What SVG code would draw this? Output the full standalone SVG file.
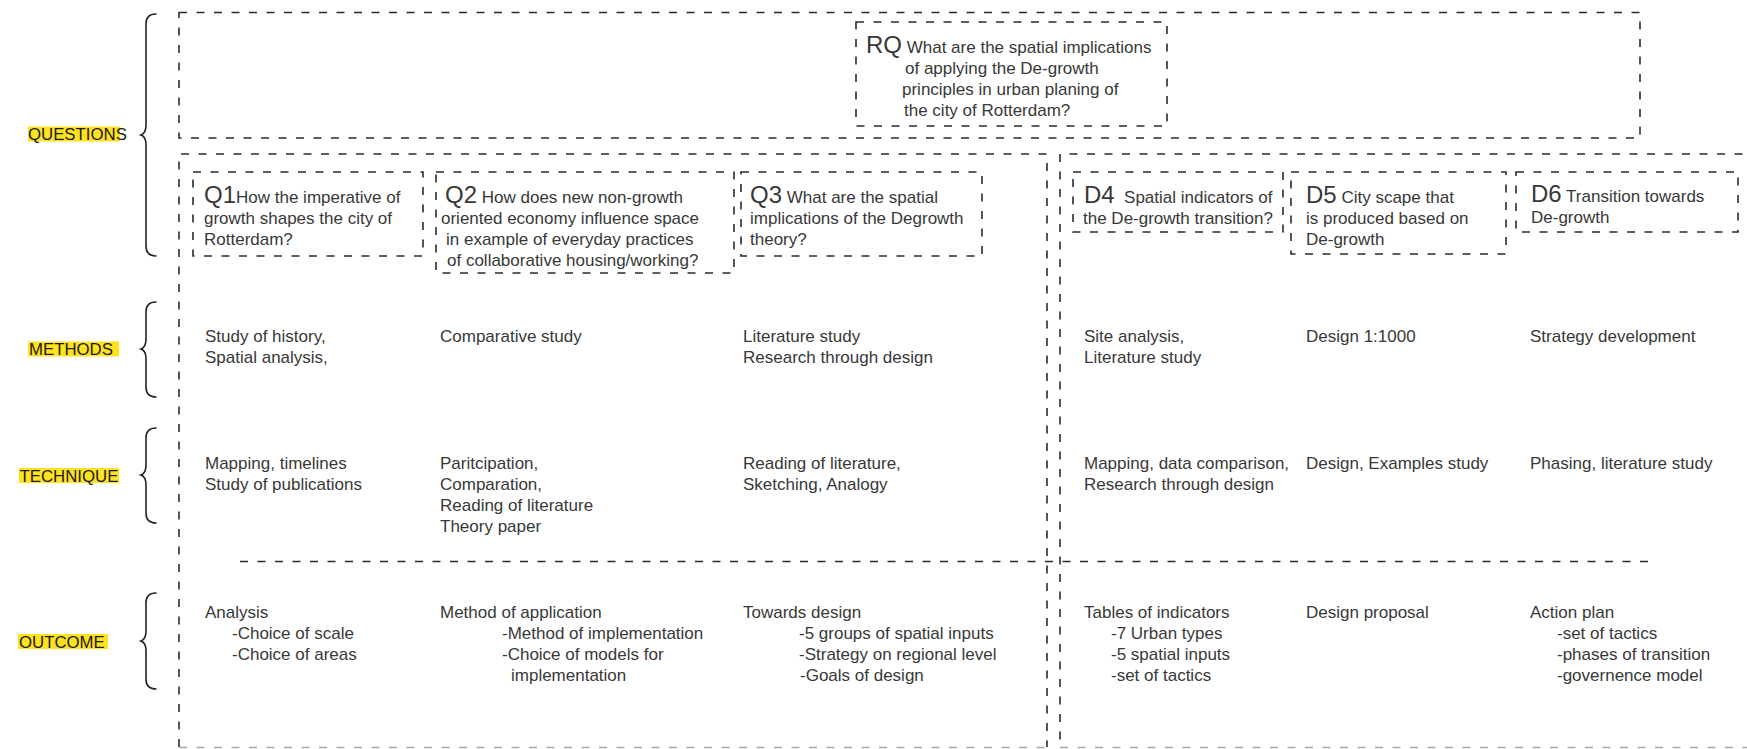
<svg xmlns="http://www.w3.org/2000/svg" width="1747" height="749" viewBox="0 0 1747 749">
<style>
.t{font-family:"Liberation Sans",Arial,sans-serif;font-size:17px;fill:#383838}
.big{font-size:24px}
.lbl{font-family:"Liberation Sans",Arial,sans-serif;font-size:16.8px;fill:#1a1a1a}
.hl{fill:#FFE21F}
.d{fill:none;stroke:#2b2b2b;stroke-width:1.6;stroke-dasharray:8 9.5}
.dl{fill:none;stroke:#a8a8a8;stroke-width:1.6;stroke-dasharray:8 9.5}
.br{fill:none;stroke:#222;stroke-width:1.6;stroke-linecap:round}
</style>
<rect width="1747" height="749" fill="#fff"/>

<g id="labels">
  <g id="label-questions">
    <rect class="hl" x="28" y="126.5" width="92" height="15"/>
    <text class="lbl" x="28" y="140">QUESTIONS</text>
    <path class="br" d="M156,14 C150,14 146,17 146,24 L146,125 C146,131 144,134 141,135 C144,136 146,139 146,145 L146,246 C146,253 150,256 156,256"/>
  </g>
  <g id="label-methods">
    <rect class="hl" x="28" y="341.5" width="91" height="15"/>
    <text class="lbl" x="29" y="355">METHODS</text>
    <path class="br" d="M156,302 C150,302 146,305 146,312 L146,339 C146,345 144,348 141,349 C144,350 146,353 146,359 L146,387 C146,394 150,397 156,397"/>
  </g>
  <g id="label-technique">
    <rect class="hl" x="19" y="468" width="100" height="15"/>
    <text class="lbl" x="19.5" y="481.5">TECHNIQUE</text>
    <path class="br" d="M156,428 C150,428 146,431 146,438 L146,465 C146,471 144,474 141,475 C144,476 146,479 146,485 L146,513 C146,520 150,523 156,523"/>
  </g>
  <g id="label-outcome">
    <rect class="hl" x="18" y="634" width="90" height="15"/>
    <text class="lbl" x="19" y="647.5">OUTCOME</text>
    <path class="br" d="M156,593 C150,593 146,596 146,603 L146,631 C146,637 144,640 141,641 C144,642 146,645 146,651 L146,679 C146,686 150,689 156,689"/>
  </g>
</g>

<g id="frames">
  <rect id="rq-frame" class="d" x="179" y="12.5" width="1461" height="125.5"/>
  <path id="left-frame" class="d" d="M179,747 V154 H1047 V747"/>
  <path class="dl" d="M179,747.5 H1047"/>
  <path id="right-frame" class="d" d="M1760,154 H1060 V747"/>
  <path class="dl" d="M1060,747.5 H1747"/>
</g>

<g id="connectors">
  <path id="divider" class="d" d="M240,561.5 H1648"/>
</g>

<g id="RQ">
  <rect class="d" x="856" y="22" width="311" height="104"/>
  <text class="t" x="866" y="53"><tspan class="big">RQ</tspan> What are the spatial implications</text>
  <text class="t" x="905" y="74">of applying the De-growth</text>
  <text class="t" x="902" y="95">principles in urban planing of</text>
  <text class="t" x="904" y="116">the city of Rotterdam?</text>
</g>

<g id="Q1">
  <rect class="d" x="193" y="172" width="230" height="84"/>
  <text class="t" x="204" y="202.5"><tspan class="big">Q1</tspan>How the imperative of</text>
  <text class="t" x="204" y="223.5">growth shapes the city of</text>
  <text class="t" x="204" y="244.5">Rotterdam?</text>
</g>

<g id="Q2">
  <rect class="d" x="436" y="172" width="298" height="101"/>
  <text class="t" x="445" y="202.5"><tspan class="big">Q2</tspan> How does new non-growth</text>
  <text class="t" x="441" y="223.5">oriented economy influence space</text>
  <text class="t" x="446" y="244.5">in example of everyday practices</text>
  <text class="t" x="447" y="265.5">of collaborative housing/working?</text>
</g>

<g id="Q3">
  <rect class="d" x="741" y="172" width="241" height="84"/>
  <text class="t" x="750" y="202.5"><tspan class="big">Q3</tspan> What are the spatial</text>
  <text class="t" x="750" y="223.5">implications of the Degrowth</text>
  <text class="t" x="750" y="244.5">theory?</text>
</g>

<g id="D4">
  <rect class="d" x="1073" y="172" width="210" height="60"/>
  <text class="t" x="1084" y="202.5"><tspan class="big">D4</tspan><tspan dx="9.4">Spatial indicators of</tspan></text>
  <text class="t" x="1083" y="223.5">the De-growth transition?</text>
</g>

<g id="D5">
  <rect class="d" x="1291" y="172" width="215" height="82"/>
  <text class="t" x="1306" y="202.5"><tspan class="big">D5</tspan> City scape that</text>
  <text class="t" x="1306" y="223.5">is produced based on</text>
  <text class="t" x="1306" y="244.5">De-growth</text>
</g>

<g id="D6">
  <rect class="d" x="1516" y="172" width="222" height="60"/>
  <text class="t" x="1531" y="202"><tspan class="big">D6</tspan> Transition towards</text>
  <text class="t" x="1531" y="223">De-growth</text>
</g>

<g id="methods">
  <text class="t" x="205" y="342">Study of history,</text>
  <text class="t" x="205" y="363">Spatial analysis,</text>
  <text class="t" x="440" y="342">Comparative study</text>
  <text class="t" x="743" y="342">Literature study</text>
  <text class="t" x="743" y="363">Research through design</text>
  <text class="t" x="1084" y="342">Site analysis,</text>
  <text class="t" x="1084" y="363">Literature study</text>
  <text class="t" x="1306" y="342">Design 1:1000</text>
  <text class="t" x="1530" y="342">Strategy development</text>
</g>

<g id="technique">
  <text class="t" x="205" y="469">Mapping, timelines</text>
  <text class="t" x="205" y="490">Study of publications</text>
  <text class="t" x="440" y="469">Paritcipation,</text>
  <text class="t" x="440" y="490">Comparation,</text>
  <text class="t" x="440" y="511">Reading of literature</text>
  <text class="t" x="440" y="532">Theory paper</text>
  <text class="t" x="743" y="469">Reading of literature,</text>
  <text class="t" x="743" y="490">Sketching, Analogy</text>
  <text class="t" x="1084" y="469">Mapping, data comparison,</text>
  <text class="t" x="1084" y="490">Research through design</text>
  <text class="t" x="1306" y="469">Design, Examples study</text>
  <text class="t" x="1530" y="469">Phasing, literature study</text>
</g>

<g id="outcome">
  <text class="t" x="205" y="618">Analysis</text>
  <text class="t" x="232" y="639">-Choice of scale</text>
  <text class="t" x="232" y="660">-Choice of areas</text>
  <text class="t" x="440" y="618">Method of application</text>
  <text class="t" x="502" y="639">-Method of implementation</text>
  <text class="t" x="502" y="660">-Choice of models for</text>
  <text class="t" x="511" y="681">implementation</text>
  <text class="t" x="743" y="618">Towards design</text>
  <text class="t" x="799" y="639">-5 groups of spatial inputs</text>
  <text class="t" x="799" y="660">-Strategy on regional level</text>
  <text class="t" x="800" y="681">-Goals of design</text>
  <text class="t" x="1084" y="618">Tables of indicators</text>
  <text class="t" x="1111" y="639">-7 Urban types</text>
  <text class="t" x="1111" y="660">-5 spatial inputs</text>
  <text class="t" x="1111" y="681">-set of tactics</text>
  <text class="t" x="1306" y="618">Design proposal</text>
  <text class="t" x="1530" y="618">Action plan</text>
  <text class="t" x="1557" y="639">-set of tactics</text>
  <text class="t" x="1557" y="660">-phases of transition</text>
  <text class="t" x="1557" y="681">-governence model</text>
</g>
</svg>
